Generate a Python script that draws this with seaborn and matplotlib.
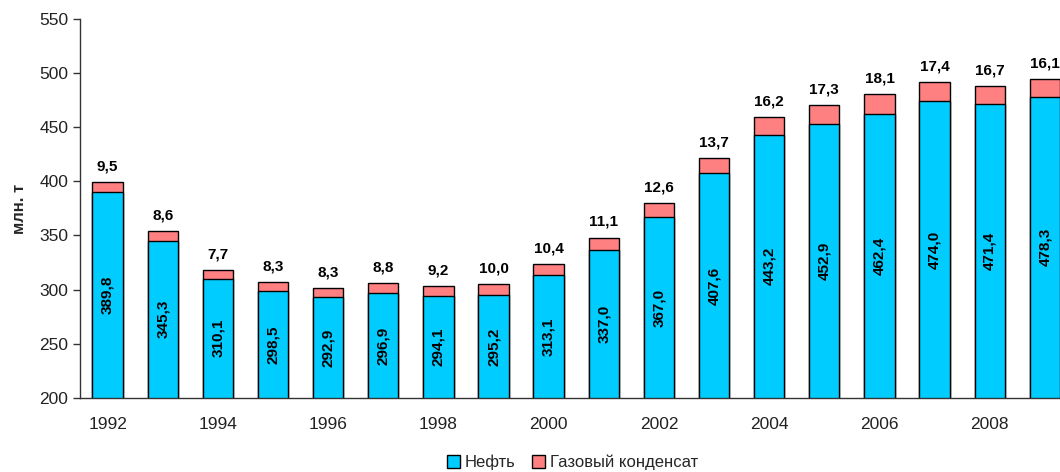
import numpy as np
import pandas as pd
import matplotlib
matplotlib.use("Agg")
import matplotlib.pyplot as plt
import seaborn as sns
from matplotlib.patches import Patch

years = [1992, 1993, 1994, 1995, 1996, 1997, 1998, 1999, 2000,
         2001, 2002, 2003, 2004, 2005, 2006, 2007, 2008, 2009]
oil = [389.8, 345.3, 310.1, 298.5, 292.9, 296.9, 294.1, 295.2, 313.1,
       337.0, 367.0, 407.6, 443.2, 452.9, 462.4, 474.0, 471.4, 478.3]
condensate = [9.5, 8.6, 7.7, 8.3, 8.3, 8.8, 9.2, 10.0, 10.4,
              11.1, 12.6, 13.7, 16.2, 17.3, 18.1, 17.4, 16.7, 16.1]
series_names = ["Нефть", "Газовый конденсат"]
y_label = "млн. т"

sns.set_style("white")
plt.rcParams['font.family'] = ['Liberation Sans', 'DejaVu Sans']

df = pd.DataFrame({"year": [str(y) for y in years], "oil": oil, "cond": condensate})
df["total"] = df["oil"] + df["cond"]

blue = "#00CCFF"
pink = "#FF8080"

fig = plt.figure(figsize=(10.6, 4.72), dpi=100)
ax = fig.add_axes([0.0755, 0.157, 0.9245, 0.803])

sns.barplot(data=df, x="year", y="total", color=pink, width=0.55,
            edgecolor="black", linewidth=1.0, saturation=1, ax=ax)
sns.barplot(data=df, x="year", y="oil", color=blue, width=0.55,
            edgecolor="black", linewidth=1.0, saturation=1, ax=ax)

ymin, ymax = 200, 550
ax.set_ylim(ymin, ymax)
ax.set_xlim(-0.5, len(years) - 1 + 0.275)
ax.set_yticks(np.arange(200, 551, 50))

# ticks at category boundaries, labels under even years
n = len(years)
ax.set_xticks(np.arange(-0.5, n - 0.5, 1.0))
ax.set_xticklabels([])
even_idx = [i for i, y in enumerate(years) if y % 2 == 0]
ax.set_xticks(even_idx, minor=True)
ax.set_xticklabels([str(years[i]) for i in even_idx], minor=True)
ax.tick_params(axis="x", which="major", length=5, width=1, color="#333333", direction="out")
ax.tick_params(axis="x", which="minor", length=0, pad=14, labelsize=12.5, labelcolor="#222222")
ax.tick_params(axis="y", length=5, width=1, color="#333333", direction="out",
               labelsize=12.5, labelcolor="#222222", left=True)

for s in ["top", "right"]:
    ax.spines[s].set_visible(False)
for s in ["left", "bottom"]:
    ax.spines[s].set_color("#333333")
    ax.spines[s].set_linewidth(1.0)

ax.set_xlabel("")
ax.set_ylabel(y_label, fontsize=12, fontweight="bold", labelpad=9)

for i, (o, c) in enumerate(zip(oil, condensate)):
    ax.text(i, o + c + 8, f"{c:.1f}".replace(".", ","), ha="center", va="bottom",
            fontsize=11, fontweight="bold", color="black")
    ax.text(i, (ymin + o) / 2, f"{o:.1f}".replace(".", ","), ha="center", va="center",
            rotation=90, fontsize=11, fontweight="bold", color="black")

handles = [Patch(facecolor=blue, edgecolor="black", linewidth=1.0),
           Patch(facecolor=pink, edgecolor="black", linewidth=1.0)]
fig.legend(handles, series_names, loc="lower center", bbox_to_anchor=(0.54, -0.028),
           ncol=2, frameon=False, fontsize=12, handlelength=0.75, handleheight=0.75,
           handletextpad=0.3, columnspacing=1.0)

fig.savefig("out.png", dpi=100)
